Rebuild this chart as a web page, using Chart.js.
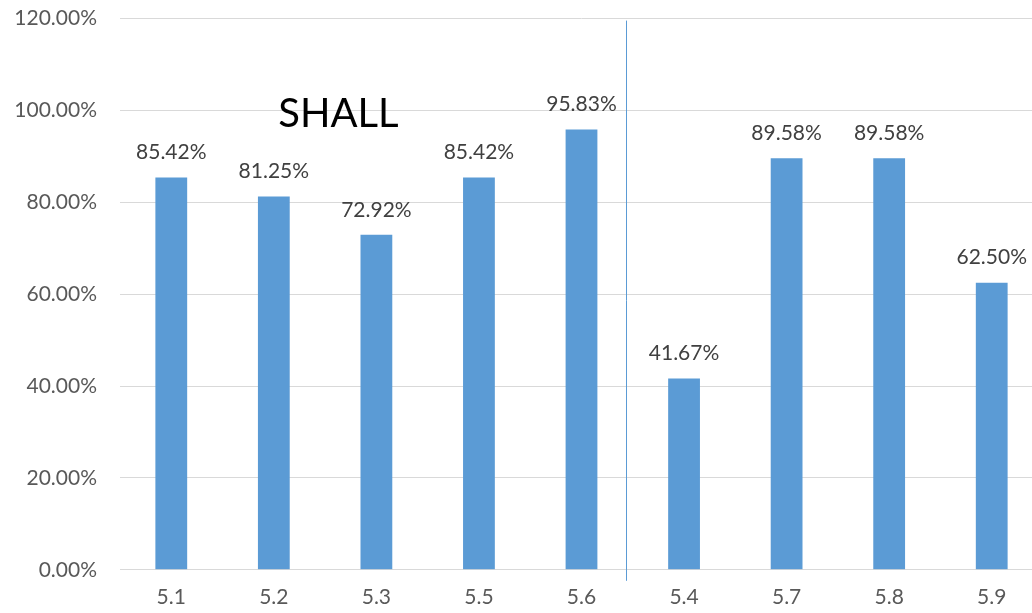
<!DOCTYPE html>
<html lang="en">
<head>
  <meta charset="UTF-8" />
  <title>SHALL</title>
  <script src="https://cdn.jsdelivr.net/npm/chart.js"></script>
  <style>
    html, body { margin: 0; padding: 0; background: #fff; overflow: hidden; }
    #wrap { width: 1060px; height: 634px; margin-top: -17px; }
  </style>
</head>
<body>
  <div id="wrap"><canvas id="chart" width="1060" height="634"></canvas></div>

  <script>
    // chart data
    const categories = ["5.1", "5.2", "5.3", "5.5", "5.6", "5.4", "5.7", "5.8", "5.9"];
    const scores = [85.42, 81.25, 72.92, 85.42, 95.83, 41.67, 89.58, 89.58, 62.50];
    const yTicks = [0, 20, 40, 60, 80, 100, 120];
    const note = "SHALL";

    const barColor = "#5B9BD5";
    const fontFam = "Lato, 'Open Sans', sans-serif";

    // value labels above bars, the divider line and the SHALL note
    const extras = {
      id: "extras",
      afterDatasetsDraw(chart) {
        const ctx = chart.ctx;
        const x = chart.scales.x, y = chart.scales.y;
        const meta = chart.getDatasetMeta(0);

        ctx.save();
        ctx.font = "21px " + fontFam;
        ctx.fillStyle = "#404040";
        ctx.textAlign = "center";
        ctx.textBaseline = "middle";
        meta.data.forEach((bar, i) => {
          ctx.fillText(scores[i].toFixed(2) + "%", bar.x, bar.y - 25);
        });

        // divider between 5.6 and 5.4
        const step = x.getPixelForValue(5) - x.getPixelForValue(4);
        const lx = Math.round(x.getPixelForValue(4) + step * 0.43) + 0.5;
        ctx.strokeStyle = "#5B9BD5";
        ctx.lineWidth = 1;
        ctx.beginPath();
        ctx.moveTo(lx, y.getPixelForValue(120) + 2);
        ctx.lineTo(lx, y.getPixelForValue(0) + 11);
        ctx.stroke();

        ctx.font = "40px " + fontFam;
        ctx.fillStyle = "#000";
        ctx.fillText(note, x.getPixelForValue(1) + step * 0.63, y.getPixelForValue(99.3));
        ctx.restore();
      }
    };

    new Chart(document.getElementById("chart"), {
      type: "bar",
      data: {
        labels: categories,
        datasets: [{
          data: scores,
          backgroundColor: barColor,
          categoryPercentage: 1,
          barPercentage: 0.31
        }]
      },
      options: {
        responsive: false,
        animation: false,
        layout: { padding: { top: 0, right: 17, left: 0, bottom: 0 } },
        plugins: { legend: { display: false }, tooltip: { enabled: false } },
        scales: {
          x: {
            grid: { display: false },
            border: { color: "#d9d9d9" },
            ticks: { color: "#595959", font: { size: 21, family: fontFam }, padding: 7 }
          },
          y: {
            min: 0,
            max: 120,
            afterFit(scale) { scale.width = 120; },
            afterBuildTicks(scale) { scale.ticks = yTicks.map(v => ({ value: v })); },
            grid: { color: "#d9d9d9", drawTicks: false },
            border: { display: false },
            ticks: {
              color: "#595959",
              font: { size: 21, family: fontFam },
              padding: 23,
              callback: v => v.toFixed(2) + "%"
            }
          }
        }
      },
      plugins: [extras]
    });
  </script>
</body>
</html>
